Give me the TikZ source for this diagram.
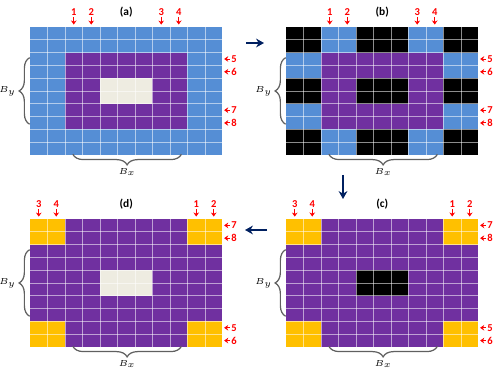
\documentclass[tikz,border=0pt]{standalone}
\usepackage{fontspec}
\setsansfont{Carlito}
\usetikzlibrary{positioning,arrows.meta,decorations.pathreplacing}

\definecolor{cellblue}{RGB}{85,142,213}
\definecolor{cellpurple}{RGB}{112,48,160}
\definecolor{cellgold}{RGB}{255,192,0}
\definecolor{cellcream}{RGB}{238,236,225}
\definecolor{stepnavy}{RGB}{0,32,96}

\tikzset{
  gridline/.style={white, opacity=0.55, line width=0.5pt},
  idxlabel/.style={red, font=\sffamily\bfseries\fontsize{6}{6}\selectfont, inner sep=0.6pt},
  idxarrow/.style={red, line width=0.55pt, -{Stealth[length=2.3pt,width=3.2pt]}},
  paneltitle/.style={font=\sffamily\bfseries\fontsize{6.5}{7}\selectfont},
  bracket/.style={draw=gray!75!black, line width=0.7pt, decorate,
    decoration={brace, amplitude=6pt}},
  dimlabel/.style={font=\fontsize{5.5}{6}\selectfont, inner sep=0.5pt},
  steparrow/.style={stepnavy, line width=1.1pt, -{Stealth[length=4.5pt,width=5pt]}},
  panel/.style={x=0.35cm, y=-0.256cm}
}

% white cell lines of one 11 x 10 panel
\newcommand{\cellgrid}{%
  \foreach \i in {1,...,10} \draw[gridline] (\i,0) -- (\i,10);
  \foreach \j in {1,...,9} \draw[gridline] (0,\j) -- (11,\j);}
% index above a column
\newcommand{\topidx}[3]{%
  \node[idxlabel] (#1) at ({#2+0.5},-1.17) {#3};
  \draw[idxarrow] (#1.south) -- ++(0,0.6);}
% index right of a row
\newcommand{\rightidx}[3]{%
  \node[idxlabel] (#1) at (11.66,{#2+0.5}) {#3};
  \draw[idxarrow] (#1.west) -- ++(-0.33,0);}
% braces B_y and B_x
\newcommand{\panelbraces}[1]{%
  \draw[bracket] (-0.02,7.6) -- (-0.02,2.4) node[midway, left=7pt, dimlabel] (#1y) {$B_y$};
  \draw[bracket] (8.65,9.95) -- (2.45,9.95) node[midway, below=7pt, dimlabel] (#1x) {$B_x$};}

\begin{document}
\begin{tikzpicture}[x=0.02cm, y=-0.02cm]

\useasboundingbox (0,0) rectangle (500,377);

% (a)
\begin{scope}[shift={(30,27)}, panel]
  \fill[cellblue] (0,0) rectangle (11,10);
  \fill[cellpurple] (2,2) rectangle (9,8);
  \fill[cellcream] (4,4) rectangle (7,6);
  \cellgrid
  \node[paneltitle] (ta) at (5.5,-1.17) {(a)};
  \topidx{a1}{2}{1} \topidx{a2}{3}{2} \topidx{a3}{7}{3} \topidx{a4}{8}{4}
  \rightidx{a5}{2}{5} \rightidx{a6}{3}{6} \rightidx{a7}{6}{7} \rightidx{a8}{7}{8}
  \panelbraces{a}
\end{scope}

% (b)
\begin{scope}[shift={(286,27)}, panel]
  \fill[black] (0,0) rectangle (11,10);
  \fill[cellblue] (2,0) rectangle (4,10);
  \fill[cellblue] (7,0) rectangle (9,10);
  \fill[cellblue] (0,2) rectangle (11,4);
  \fill[cellblue] (0,6) rectangle (11,8);
  \fill[cellpurple] (2,2) rectangle (9,8);
  \fill[black] (4,4) rectangle (7,6);
  \cellgrid
  \node[paneltitle] (tb) at (5.5,-1.17) {(b)};
  \topidx{b1}{2}{1} \topidx{b2}{3}{2} \topidx{b3}{7}{3} \topidx{b4}{8}{4}
  \rightidx{b5}{2}{5} \rightidx{b6}{3}{6} \rightidx{b7}{6}{7} \rightidx{b8}{7}{8}
  \panelbraces{b}
\end{scope}

% (c)
\begin{scope}[shift={(286,219)}, panel]
  \fill[cellpurple] (0,0) rectangle (11,10);
  \fill[cellgold] (0,0) rectangle (2,2);
  \fill[cellgold] (9,0) rectangle (11,2);
  \fill[cellgold] (0,8) rectangle (2,10);
  \fill[cellgold] (9,8) rectangle (11,10);
  \fill[black] (4,4) rectangle (7,6);
  \cellgrid
  \node[paneltitle] (tc) at (5.5,-1.17) {(c)};
  \topidx{c3}{0}{3} \topidx{c4}{1}{4} \topidx{c1}{9}{1} \topidx{c2}{10}{2}
  \rightidx{c7}{0}{7} \rightidx{c8}{1}{8} \rightidx{c5}{8}{5} \rightidx{c6}{9}{6}
  \panelbraces{c}
\end{scope}

% (d)
\begin{scope}[shift={(30,219)}, panel]
  \fill[cellpurple] (0,0) rectangle (11,10);
  \fill[cellgold] (0,0) rectangle (2,2);
  \fill[cellgold] (9,0) rectangle (11,2);
  \fill[cellgold] (0,8) rectangle (2,10);
  \fill[cellgold] (9,8) rectangle (11,10);
  \fill[cellcream] (4,4) rectangle (7,6);
  \cellgrid
  \node[paneltitle] (td) at (5.5,-1.17) {(d)};
  \topidx{d3}{0}{3} \topidx{d4}{1}{4} \topidx{d1}{9}{1} \topidx{d2}{10}{2}
  \rightidx{d7}{0}{7} \rightidx{d8}{1}{8} \rightidx{d5}{8}{5} \rightidx{d6}{9}{6}
  \panelbraces{d}
\end{scope}

% steps between panels
\coordinate (ab0) at (246,43);
\coordinate (ab1) at (264,43);
\coordinate (bc0) at (343,175);
\coordinate (bc1) at (343,199);
\coordinate (cd0) at (267,230);
\coordinate (cd1) at (245,230);
\draw[steparrow] (ab0) -- (ab1);
\draw[steparrow] (bc0) -- (bc1);
\draw[steparrow] (cd0) -- (cd1);

\end{tikzpicture}
\end{document}
